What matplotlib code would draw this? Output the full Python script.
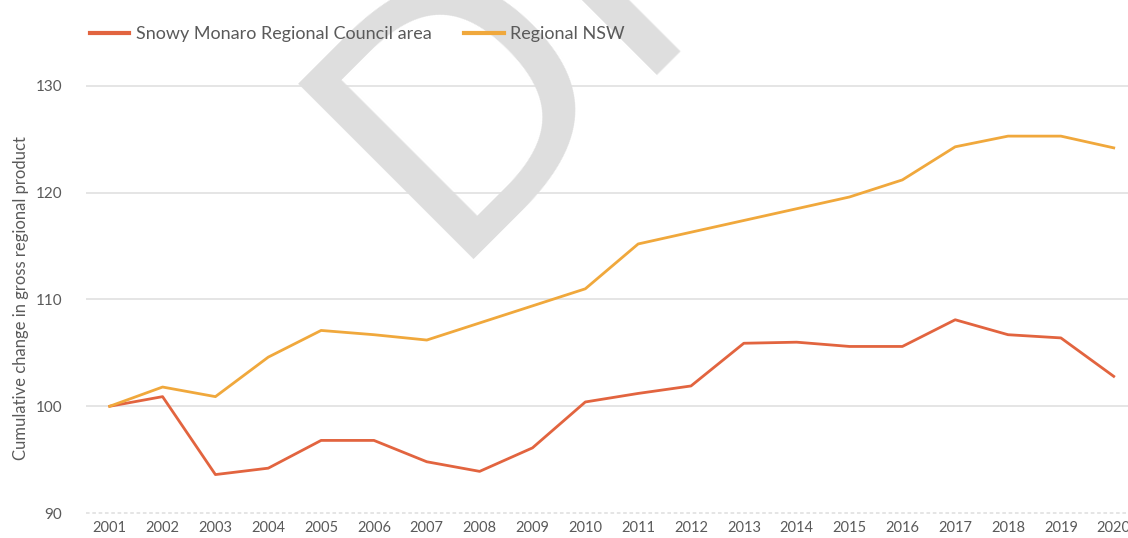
import matplotlib.pyplot as plt

years = list(range(2001, 2021))
snowy = [100, 100.9, 93.6, 94.2, 96.8, 96.8, 94.8, 93.9, 96.1, 100.4,
         101.2, 101.9, 105.9, 106.0, 105.6, 105.6, 108.1, 106.7, 106.4, 102.8]
regional = [100, 101.8, 100.9, 104.6, 107.1, 106.7, 106.2, 107.8, 109.4, 111.0,
            115.2, 116.3, 117.4, 118.5, 119.6, 121.2, 124.3, 125.3, 125.3, 124.2]
y_ticks = [90, 100, 110, 120, 130]

plt.rcParams['font.family'] = ['Lato', 'DejaVu Sans']
text_col = '#5a5a5a'

fig = plt.figure(figsize=(11.28, 5.38), dpi=100)
ax = fig.add_axes([0.0762, 0.0266, 0.9238, 0.8335])

ax.plot(years, snowy, color='#e2643f', lw=2.0, label='Snowy Monaro Regional Council area', zorder=3)
ax.plot(years, regional, color='#f0a83c', lw=2.0, label='Regional NSW', zorder=3)

ax.set_xlim(2000.55, 2020.27)
ax.set_ylim(89, 131)
ax.set_yticks(y_ticks)
ax.set_xticks(years)
ax.tick_params(axis='both', length=0, colors=text_col)
ax.tick_params(axis='y', labelsize=11, pad=17)
ax.tick_params(axis='x', labelsize=10.5, pad=-2)
ax.yaxis.grid(True, color='#e3e3e3', lw=1.3)
ax.get_ygridlines()[0].set_linestyle((0, (2, 1.5)))
ax.set_axisbelow(True)
for s in ax.spines.values():
    s.set_visible(False)

ax.set_ylabel('Cumulative change in gross regional product', fontsize=12, color=text_col)
ax.yaxis.set_label_coords(-0.055, 0.503)

leg = fig.legend(loc='upper left', bbox_to_anchor=(0.065, 0.982), ncol=2, frameon=False,
                 fontsize=13, handlelength=2.2, columnspacing=1.8, handletextpad=0.35)
leg.set_zorder(5)
for t in leg.get_texts():
    t.set_color(text_col)
for h in leg.get_lines():
    h.set_linewidth(3)

# watermark, under the legend
fig.text(0.39, 0.52, 'DRAFT', fontsize=244, color='#dedede', rotation=45,
         rotation_mode='anchor', ha='left', va='baseline', family='DejaVu Sans', zorder=1)

fig.savefig('out.png', dpi=100)
